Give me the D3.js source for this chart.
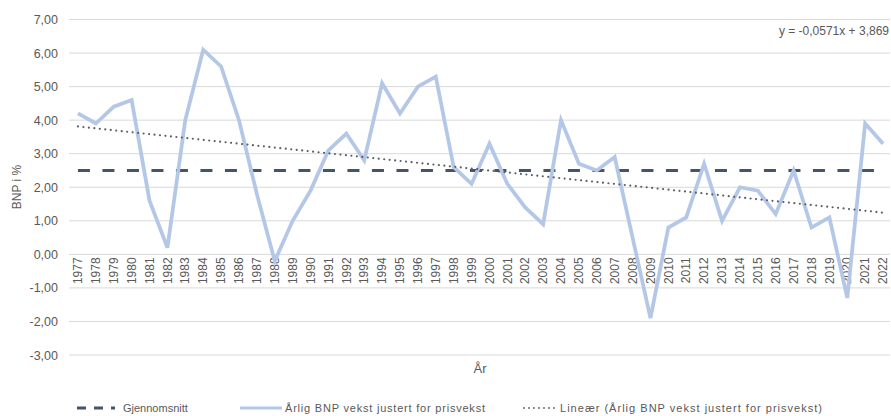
<!doctype html>
<html>
<head>
<meta charset="utf-8">
<script src="https://d3js.org/d3.v7.min.js"></script>
<style>
body { margin:0; background:#fff; }
text { font-family: "Liberation Sans", Arial, sans-serif; fill:#595959; }
</style>
</head>
<body>
<script>
// data
var years = ['1977','1978','1979','1980','1981','1982','1983','1984','1985','1986','1987','1988','1989','1990','1991','1992','1993','1994','1995','1996','1997','1998','1999','2000','2001','2002','2003','2004','2005','2006','2007','2008','2009','2010','2011','2012','2013','2014','2015','2016','2017','2018','2019','2020','2021','2022'];
var growth = [4.2,3.9,4.4,4.6,1.6,0.2,4.0,6.1,5.6,4.0,1.8,-0.2,1.0,1.9,3.1,3.6,2.8,5.1,4.2,5.0,5.3,2.6,2.1,3.3,2.1,1.4,0.9,4.0,2.7,2.5,2.9,0.5,-1.9,0.8,1.1,2.7,1.0,2.0,1.9,1.2,2.5,0.8,1.1,-1.3,3.9,3.3];
var average = 2.5;
var trendSlope = -0.0571, trendIntercept = 3.869;
var yTicks = [-3,-2,-1,0,1,2,3,4,5,6,7];
var legendLabels = ['Gjennomsnitt','Årlig BNP vekst justert for prisvekst','Lineær (Årlig BNP vekst justert for prisvekst)'];

var width = 891, height = 416;
var svg = d3.select('body').append('svg').attr('width',width).attr('height',height);

var x = d3.scaleBand().domain(years).range([69,892]);
var y = d3.scaleLinear().domain([-3,7]).range([355,19.5]);
var fmt = function(d){ return d3.format('.2f')(d).replace('.',',').replace('−','-'); };
var cx = function(d){ return x(d) + x.bandwidth()/2; };

// gridlines
svg.append('g').selectAll('line').data(yTicks).enter().append('line')
	.attr('x1',69).attr('x2',890)
	.attr('y1',function(d){return y(d);}).attr('y2',function(d){return y(d);})
	.style('stroke','#d9d9d9').style('stroke-width',1);

// y axis labels
var yAxis = d3.axisLeft(y).tickValues(yTicks).tickFormat(fmt).tickSize(0).tickPadding(0);
var yG = svg.append('g').attr('transform','translate(58,0)').call(yAxis);
yG.select('.domain').remove();
yG.selectAll('text').style('font-size','12.5px').style('fill','#595959').style('font-family','"Liberation Sans", Arial, sans-serif');

// x axis labels (vertical, at the zero line)
var xAxis = d3.axisBottom(x).tickSize(0).tickPadding(0);
var xG = svg.append('g').attr('transform','translate(0,'+y(0)+')').call(xAxis);
xG.select('.domain').remove();
xG.selectAll('text')
	.attr('transform','rotate(-90)').attr('x',-3).attr('y',0).attr('dy','0.35em')
	.style('text-anchor','end').style('font-size','12px').style('fill','#595959')
	.style('font-family','"Liberation Sans", Arial, sans-serif');

// average line
svg.append('line')
	.attr('x1',cx(years[0])).attr('x2',cx(years[years.length-1]))
	.attr('y1',y(average)).attr('y2',y(average))
	.style('stroke','#44546a').style('stroke-width',3).style('stroke-dasharray','12,12.5');

// growth line
var line = d3.line().x(function(d,i){return cx(years[i]);}).y(function(d){return y(d);});
svg.append('path').attr('d',line(growth))
	.style('fill','none').style('stroke','#b4c7e7').style('stroke-width',3.75).style('stroke-linejoin','miter');

// linear trend line
var t0 = trendSlope*1 + trendIntercept, t1 = trendSlope*years.length + trendIntercept;
svg.append('line')
	.attr('x1',cx(years[0])).attr('x2',cx(years[years.length-1]))
	.attr('y1',y(t0)).attr('y2',y(t1))
	.style('stroke','#595f6b').style('stroke-width',2.2).style('stroke-linecap','round').style('stroke-dasharray','0,5.5');

// trend equation
svg.append('text').attr('x',889).attr('y',35).attr('text-anchor','end')
	.style('font-size','12px').text('y = -0,0571x + 3,869');

// axis titles
svg.append('text').attr('transform','translate(21,187) rotate(-90)').attr('text-anchor','middle')
	.style('font-size','12px').text('BNP i %');
svg.append('text').attr('x',480).attr('y',373).attr('text-anchor','middle')
	.style('font-size','13px').text('År');

// legend
var lg = svg.append('g').attr('transform','translate(0,408)');
lg.append('line').attr('x1',77).attr('x2',115).attr('y1',0).attr('y2',0)
	.style('stroke','#44546a').style('stroke-width',3).style('stroke-dasharray','9,8');
lg.append('text').attr('x',123).attr('y',4).style('font-size','11px').text(legendLabels[0]);
lg.append('line').attr('x1',240).attr('x2',282).attr('y1',0).attr('y2',0)
	.style('stroke','#b4c7e7').style('stroke-width',3);
lg.append('text').attr('x',285).attr('y',4).style('font-size','11px').attr('textLength',200).text(legendLabels[1]);
lg.append('line').attr('x1',524).attr('x2',556).attr('y1',0).attr('y2',0)
	.style('stroke','#595f6b').style('stroke-width',1.8).style('stroke-linecap','round').style('stroke-dasharray','0,5');
lg.append('text').attr('x',560).attr('y',4).style('font-size','11px').attr('textLength',262).text(legendLabels[2]);
</script>
</body>
</html>
